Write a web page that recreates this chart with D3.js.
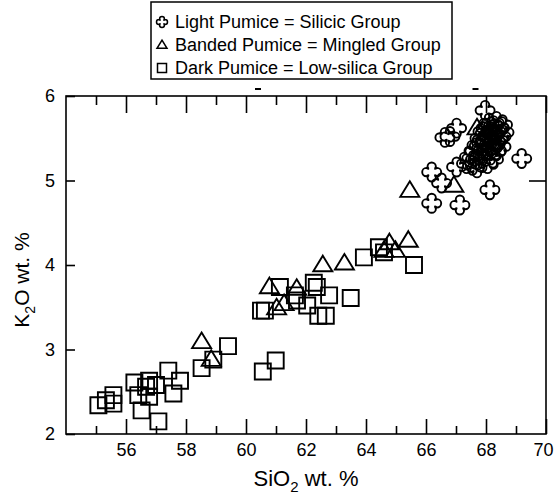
<!DOCTYPE html>
<html>
<head>
<meta charset="utf-8">
<script src="https://cdn.jsdelivr.net/npm/d3@7"></script>
<style>
  body { margin: 0; background: #fff; }
  svg { font-family: "Liberation Sans", Arial, sans-serif; }
</style>
</head>
<body>
<svg width="555" height="495"></svg>
<script>
// Light pumice (silicic group)
var lightSiO2 = [67.97, 66.8, 67.02, 66.63, 69.19, 66.19, 67.02, 66.52, 66.19, 67.13, 68.13,
  67.35, 67.45, 67.55, 67.6, 67.65, 67.7, 67.75, 67.8, 67.8, 67.85, 67.9, 67.9, 67.95, 68.0, 68.0,
  68.05, 68.05, 68.1, 68.1, 68.15, 68.15, 68.2, 68.2, 68.25, 68.25, 68.3, 68.3, 68.35, 68.35, 68.4,
  68.4, 68.45, 68.5, 68.5, 68.55, 68.6, 68.0, 67.85, 68.2, 67.7];
var lightK2O = [5.83, 5.52, 5.62, 5.51, 5.26, 5.10, 5.16, 4.97, 4.73, 4.71, 4.89,
  5.2, 5.28, 5.18, 5.35, 5.25, 5.42, 5.3, 5.5, 5.22, 5.38, 5.58, 5.3, 5.45, 5.62, 5.35,
  5.52, 5.2, 5.42, 5.68, 5.3, 5.58, 5.48, 5.38, 5.65, 5.25, 5.55, 5.42, 5.7, 5.35, 5.6,
  5.48, 5.62, 5.52, 5.4, 5.66, 5.57, 5.48, 5.45, 5.6, 5.15];

// Banded pumice (mingled group)
var bandedSiO2 = [58.52, 58.84, 60.78, 61.02, 61.27, 61.69, 62.56, 63.28, 64.6, 64.78, 64.98, 65.41, 65.46, 66.93, 67.7];
var bandedK2O = [3.09, 2.88, 3.74, 3.49, 3.54, 3.72, 4.0, 4.02, 4.17, 4.26, 4.17, 4.29, 4.88, 4.94, 5.62];

// Dark pumice (low-silica group)
var darkSiO2 = [55.08, 55.33, 55.58, 55.58, 56.28, 56.41, 56.77, 56.67, 57.0, 56.77, 56.52, 57.08,
  57.41, 57.8, 57.58, 58.52, 58.91, 59.4, 60.56, 60.99, 61.13, 60.5, 60.63, 61.63, 61.7, 62.04,
  62.26, 62.36, 62.77, 62.41, 62.66, 63.49, 63.93, 64.43, 64.6, 65.6];
var darkK2O = [2.34, 2.40, 2.46, 2.36, 2.61, 2.46, 2.63, 2.56, 2.58, 2.44, 2.28, 2.15,
  2.75, 2.63, 2.48, 2.78, 2.88, 3.04, 2.74, 2.87, 3.74, 3.46, 3.46, 3.64, 3.58, 3.52,
  3.79, 3.74, 3.64, 3.40, 3.40, 3.61, 4.09, 4.21, 4.15, 4.0];

var legendLabels = ["Light Pumice = Silicic Group", "Banded Pumice = Mingled Group", "Dark Pumice = Low-silica Group"];
var xMajorTicks = [56, 58, 60, 62, 64, 66, 68, 70];
var xMinorTicks = [55, 57, 59, 61, 63, 65, 67, 69];
var yTicks = [2, 3, 4, 5, 6];
// small dashes printed above the frame
var dashSiO2 = [60.4, 67.65];

var svg = d3.select("svg");
var pLeft = 66, pRight = 546, pTop = 96, pBottom = 434;

var x = d3.scaleLinear().domain([54, 70]).range([pLeft, pRight]);
var y = d3.scaleLinear().domain([2, 6]).range([pBottom, pTop]);

// frame
svg.append("rect")
  .attr("x", pLeft).attr("y", pTop)
  .attr("width", pRight - pLeft).attr("height", pBottom - pTop)
  .attr("fill", "none").attr("stroke", "#000").attr("stroke-width", 1.6);

function styleAxis(g) {
  g.select(".domain").remove();
  g.selectAll(".tick line").attr("stroke", "#000").attr("stroke-width", 1.6);
  g.selectAll(".tick text").attr("fill", "#000").style("font-size", "18px")
    .style("font-family", "'Liberation Sans', Arial, sans-serif");
}

// bottom axis (inward ticks)
var xAxisG = svg.append("g").attr("transform", "translate(0," + pBottom + ")")
  .call(d3.axisBottom(x).tickValues(xMajorTicks).tickSize(-15).tickPadding(9).tickFormat(d3.format("d")))
  .call(styleAxis);
// last label sits at the page edge, keep it inside
xAxisG.selectAll(".tick text").filter(function (d) { return d === 70; }).attr("dx", -3);
svg.append("g").attr("transform", "translate(0," + pBottom + ")")
  .call(d3.axisBottom(x).tickValues(xMinorTicks).tickSize(-8).tickFormat(""))
  .call(styleAxis);

// top axis (inward ticks)
svg.append("g").attr("transform", "translate(0," + pTop + ")")
  .call(d3.axisTop(x).tickValues(xMajorTicks).tickSize(-17).tickFormat(""))
  .call(styleAxis);
svg.append("g").attr("transform", "translate(0," + pTop + ")")
  .call(d3.axisTop(x).tickValues(xMinorTicks).tickSize(-9).tickFormat(""))
  .call(styleAxis);

// left axis
svg.append("g").attr("transform", "translate(" + pLeft + ",0)")
  .call(d3.axisLeft(y).tickValues(yTicks).tickSize(-9).tickPadding(11).tickFormat(d3.format("d")))
  .call(styleAxis);
// right axis
svg.append("g").attr("transform", "translate(" + pRight + ",0)")
  .call(d3.axisRight(y).tickValues([5]).tickSize(-17).tickFormat(""))
  .call(styleAxis);

// dashes above frame
svg.selectAll(".dash").data(dashSiO2).enter().append("line")
  .attr("x1", function (d) { return x(d) - 3; })
  .attr("x2", function (d) { return x(d) + 3; })
  .attr("y1", pTop - 7).attr("y2", pTop - 7)
  .attr("stroke", "#000").attr("stroke-width", 2);

// axis titles
var xt = svg.append("text").attr("x", (pLeft + pRight) / 2).attr("y", 486)
  .attr("text-anchor", "middle").style("font-size", "22px");
xt.append("tspan").text("SiO");
xt.append("tspan").attr("dy", 6).style("font-size", "15px").text("2");
xt.append("tspan").attr("dy", -6).text(" wt. %");

var yt = svg.append("text").attr("transform", "translate(29,280) rotate(-90)")
  .attr("text-anchor", "middle").style("font-size", "21px");
yt.append("tspan").text("K");
yt.append("tspan").attr("dy", 6).style("font-size", "14px").text("2");
yt.append("tspan").attr("dy", -6).text("O wt. %");

// marker shapes
function flower(r) {
  var b = r * 0.44, c = r * 0.18, e = r - b;
  return "M" + (-b) + "," + (-e) +
    "A" + b + "," + b + " 0 0 1 " + b + "," + (-e) +
    "Q" + c + "," + (-c) + " " + e + "," + (-b) +
    "A" + b + "," + b + " 0 0 1 " + e + "," + b +
    "Q" + c + "," + c + " " + b + "," + e +
    "A" + b + "," + b + " 0 0 1 " + (-b) + "," + e +
    "Q" + (-c) + "," + c + " " + (-e) + "," + b +
    "A" + b + "," + b + " 0 0 1 " + (-e) + "," + (-b) +
    "Q" + (-c) + "," + (-c) + " " + (-b) + "," + (-e) + "Z";
}
function triangle(w) {
  var h = w * 0.82;
  return "M0," + (-h * 0.6) + "L" + (w / 2) + "," + (h * 0.4) + "L" + (-w / 2) + "," + (h * 0.4) + "Z";
}
function square(s) {
  return "M" + (-s / 2) + "," + (-s / 2) + "h" + s + "v" + s + "h" + (-s) + "Z";
}

function plot(xs, ys, shape) {
  svg.append("g").selectAll("path").data(d3.range(xs.length)).enter().append("path")
    .attr("transform", function (i) { return "translate(" + x(xs[i]) + "," + y(ys[i]) + ")"; })
    .attr("d", shape)
    .attr("fill", "none").attr("stroke", "#000").attr("stroke-width", 1.9);
}
plot(darkSiO2, darkK2O, square(16));
plot(bandedSiO2, bandedK2O, triangle(19));
plot(lightSiO2, lightK2O, flower(9.5));

// legend
var lg = svg.append("g");
lg.append("rect").attr("x", 151).attr("y", 2).attr("width", 301).attr("height", 77)
  .attr("fill", "#fff").attr("stroke", "#000").attr("stroke-width", 1.5);
var legendShapes = [flower(5.5), triangle(10), square(9)];
legendLabels.forEach(function (t, i) {
  var cy = 22 + i * 23;
  lg.append("path").attr("transform", "translate(162," + cy + ")").attr("d", legendShapes[i])
    .attr("fill", "none").attr("stroke", "#000").attr("stroke-width", 1.5);
  lg.append("text").attr("x", 175).attr("y", cy + 6).style("font-size", "18px").text(t);
});
</script>
</body>
</html>
